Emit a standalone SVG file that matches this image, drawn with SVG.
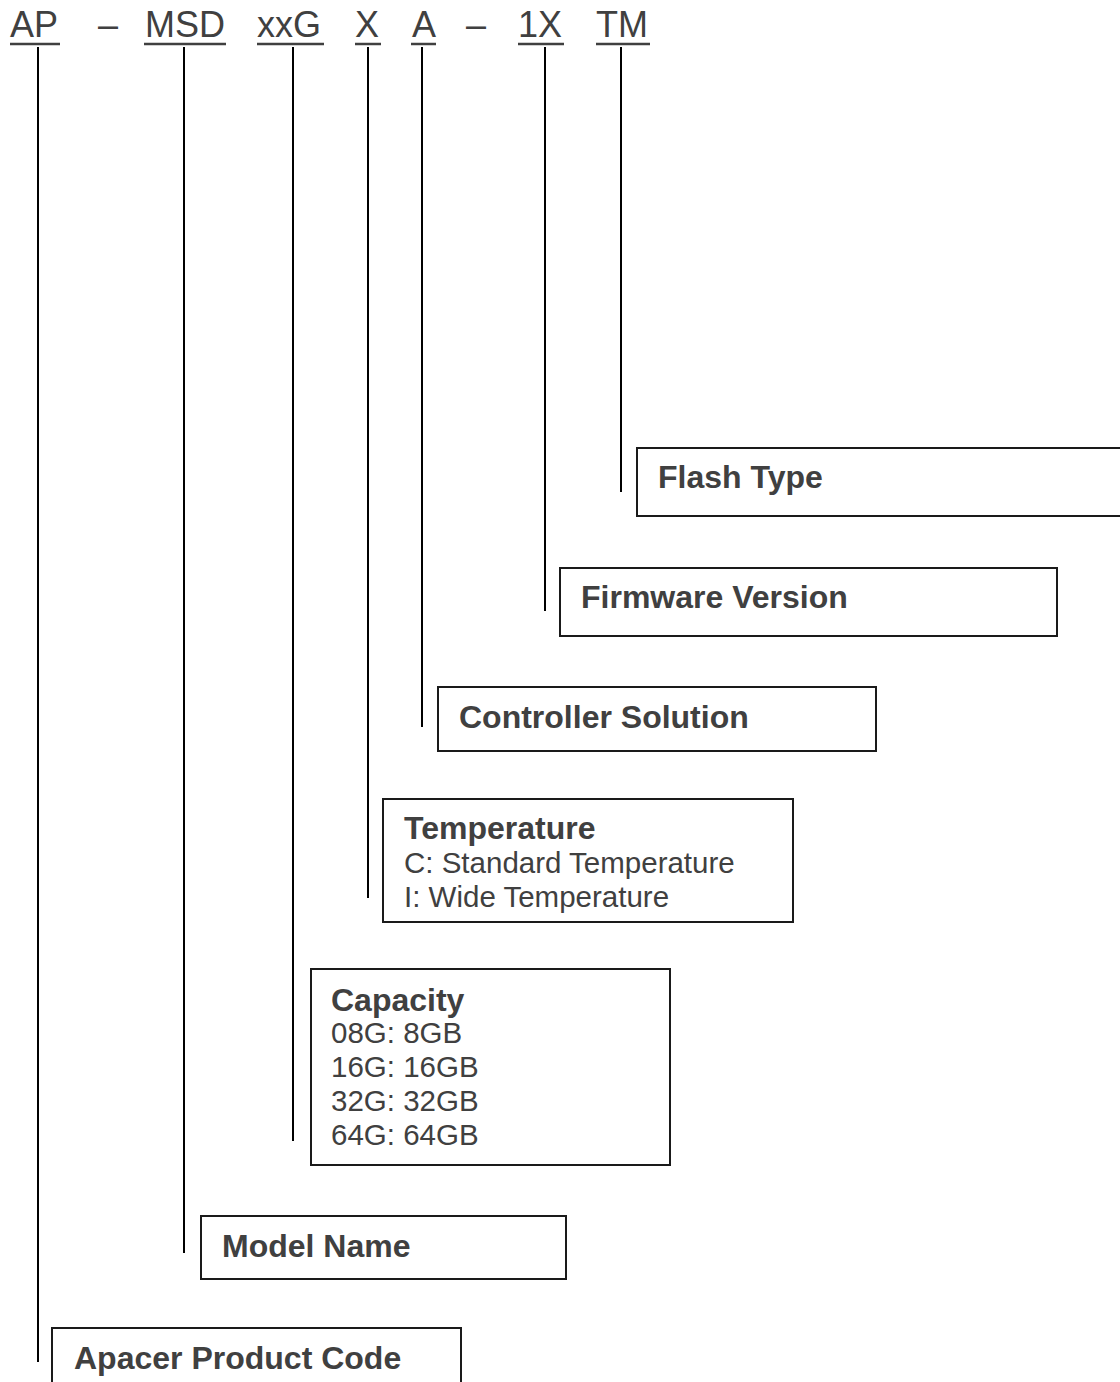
<svg xmlns="http://www.w3.org/2000/svg" width="1120" height="1382" viewBox="0 0 1120 1382">
<style>
.code{font-family:"Liberation Sans",Arial,sans-serif;font-size:36px;fill:#404040}
.u{stroke:#404040;stroke-width:2.5}
.box{fill:#fff;stroke:#1a1a1a;stroke-width:2}
.t{font-family:"Liberation Sans",Arial,sans-serif;font-size:32px;font-weight:bold;fill:#404040}
.r{font-family:"Liberation Sans",Arial,sans-serif;font-size:29.5px;fill:#404040}
.c{stroke:#000;stroke-width:2;fill:none}
</style>
<rect width="1120" height="1382" fill="#fff"/>
<g id="code">
<text class="code" x="10" y="37">AP</text>
<text class="code" x="98" y="37">–</text>
<text class="code" x="145" y="37">MSD</text>
<text class="code" x="257" y="37">xxG</text>
<text class="code" x="355" y="37">X</text>
<text class="code" x="412" y="37">A</text>
<text class="code" x="466" y="37">–</text>
<text class="code" x="518" y="37">1X</text>
<text class="code" x="596" y="37">TM</text>
<line class="u" x1="10" y1="44" x2="60" y2="44"/>
<line class="u" x1="144" y1="44" x2="226" y2="44"/>
<line class="u" x1="257" y1="44" x2="324" y2="44"/>
<line class="u" x1="355" y1="44" x2="381" y2="44"/>
<line class="u" x1="411" y1="44" x2="436" y2="44"/>
<line class="u" x1="518" y1="44" x2="564" y2="44"/>
<line class="u" x1="596" y1="44" x2="650" y2="44"/>
</g>
<g id="connectors">
<line class="c" x1="38" y1="47" x2="38" y2="1362"/>
<line class="c" x1="184" y1="47" x2="184" y2="1253"/>
<line class="c" x1="293" y1="47" x2="293" y2="1141"/>
<line class="c" x1="368" y1="47" x2="368" y2="898"/>
<line class="c" x1="422" y1="47" x2="422" y2="727"/>
<line class="c" x1="545" y1="47" x2="545" y2="611"/>
<line class="c" x1="621" y1="47" x2="621" y2="492"/>
</g>
<g id="flash-type">
<rect class="box" x="637" y="448" width="490" height="68"/>
<text class="t" x="658" y="488">Flash Type</text>
</g>
<g id="firmware-version">
<rect class="box" x="560" y="568" width="497" height="68"/>
<text class="t" x="581" y="608">Firmware Version</text>
</g>
<g id="controller-solution">
<rect class="box" x="438" y="687" width="438" height="64"/>
<text class="t" x="459" y="728">Controller Solution</text>
</g>
<g id="temperature">
<rect class="box" x="383" y="799" width="410" height="123"/>
<text class="t" x="404" y="839">Temperature</text>
<text class="r" x="404" y="873">C: Standard Temperature</text>
<text class="r" x="404" y="907">I: Wide Temperature</text>
</g>
<g id="capacity">
<rect class="box" x="311" y="969" width="359" height="196"/>
<text class="t" x="331" y="1011">Capacity</text>
<text class="r" x="331" y="1043">08G: 8GB</text>
<text class="r" x="331" y="1077">16G: 16GB</text>
<text class="r" x="331" y="1111">32G: 32GB</text>
<text class="r" x="331" y="1145">64G: 64GB</text>
</g>
<g id="model-name">
<rect class="box" x="201" y="1216" width="365" height="63"/>
<text class="t" x="222" y="1257">Model Name</text>
</g>
<g id="apacer-product-code">
<rect class="box" x="52" y="1328" width="409" height="70"/>
<text class="t" x="74" y="1369">Apacer Product Code</text>
</g>
</svg>
